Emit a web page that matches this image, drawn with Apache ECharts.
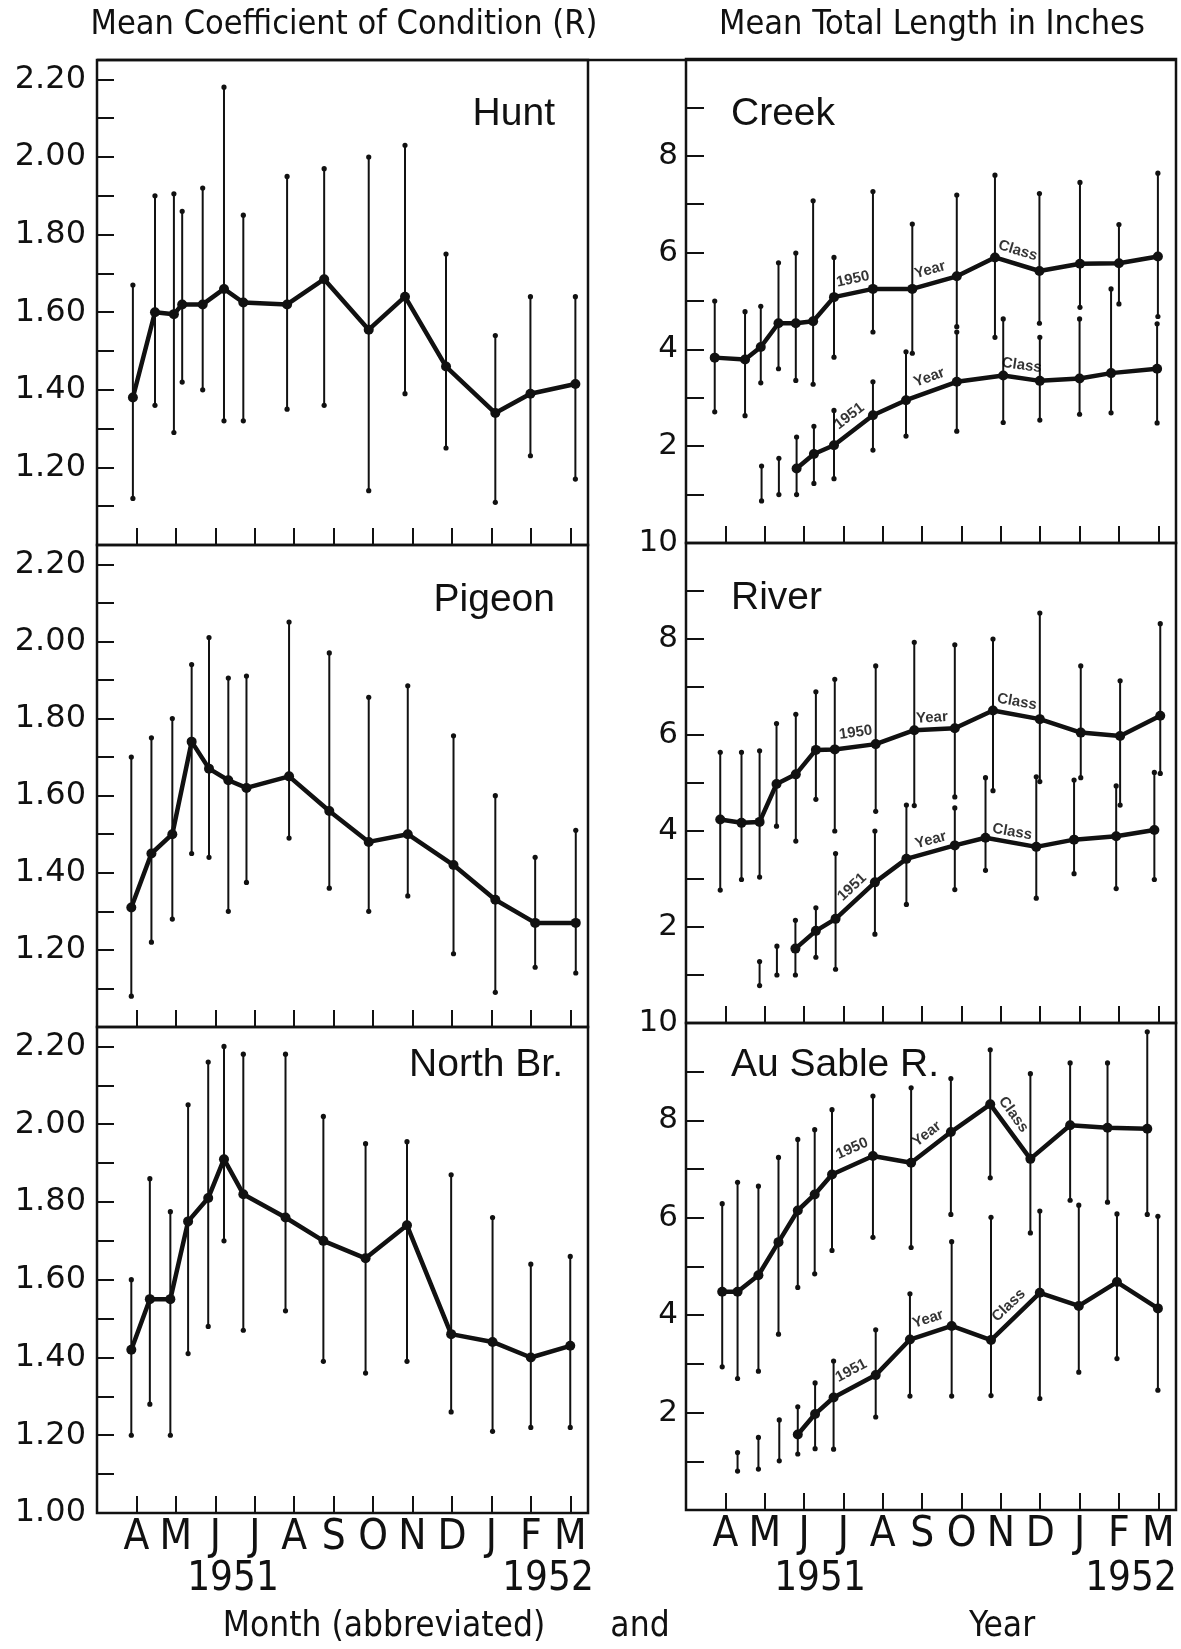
<!DOCTYPE html>
<html lang="en">

<head>
  <meta charset="UTF-8">
  <title>Condition and length by month</title>
  <style>
    html, body { margin: 0; padding: 0; background: #fff; }
    .main { width: 1181px; height: 1649px; }
  </style>
</head>

<body>
  <div class="main"></div>

  <script src="https://cdn.jsdelivr.net/npm/echarts@6/dist/echarts.min.js"></script>
  <script>
    // x position is in months: A(pril 1951) = 1 ... M(arch 1952) = 12
    const monthLetters = ['A', 'M', 'J', 'J', 'A', 'S', 'O', 'N', 'D', 'J', 'F', 'M']
    const monthTicks = [1, 2, 3, 4, 5, 6, 7, 8, 9, 10, 11, 12]
    const condMinorTicks = [1.1, 1.2, 1.3, 1.4, 1.5, 1.6, 1.7, 1.8, 1.9, 2.0, 2.1, 2.2]
    const condLabels = [1.2, 1.4, 1.6, 1.8, 2.0, 2.2]
    const lengthMinorTicks = [1, 2, 3, 4, 5, 6, 7, 8, 9]
    const lengthLabels = [2, 4, 6, 8]

    // ---- coefficient of condition (left column) ----
    const huntMonth = [0.91, 1.47, 1.95, 2.16, 2.68, 3.22, 3.71, 4.82, 5.76, 6.89, 7.81, 8.85, 10.10, 10.99, 12.13]
    const huntMean = [1.38, 1.60, 1.595, 1.62, 1.62, 1.66, 1.625, 1.62, 1.685, 1.555, 1.64, 1.46, 1.34, 1.39, 1.415]
    const huntLow = [1.12, 1.36, 1.29, 1.42, 1.40, 1.32, 1.32, 1.35, 1.36, 1.14, 1.39, 1.25, 1.11, 1.23, 1.17]
    const huntHigh = [1.67, 1.90, 1.905, 1.86, 1.92, 2.18, 1.85, 1.95, 1.97, 2.00, 2.03, 1.75, 1.54, 1.64, 1.64]

    const pigeonMonth = [0.87, 1.38, 1.91, 2.40, 2.84, 3.33, 3.79, 4.87, 5.89, 6.89, 7.88, 9.04, 10.10, 11.11, 12.14]
    const pigeonMean = [1.31, 1.45, 1.50, 1.74, 1.67, 1.64, 1.62, 1.65, 1.56, 1.48, 1.50, 1.42, 1.33, 1.27, 1.27]
    const pigeonLow = [1.08, 1.22, 1.28, 1.45, 1.44, 1.30, 1.375, 1.49, 1.36, 1.30, 1.34, 1.19, 1.09, 1.155, 1.14]
    const pigeonHigh = [1.70, 1.75, 1.80, 1.94, 2.01, 1.905, 1.91, 2.05, 1.97, 1.855, 1.885, 1.755, 1.60, 1.44, 1.51]

    const northMonth = [0.87, 1.34, 1.86, 2.31, 2.82, 3.22, 3.71, 4.78, 5.74, 6.81, 7.86, 8.98, 10.03, 11.00, 12.00]
    const northMean = [1.42, 1.55, 1.55, 1.75, 1.81, 1.91, 1.82, 1.76, 1.70, 1.655, 1.74, 1.46, 1.44, 1.40, 1.43]
    const northLow = [1.20, 1.28, 1.20, 1.41, 1.48, 1.70, 1.47, 1.52, 1.39, 1.36, 1.39, 1.26, 1.21, 1.22, 1.22]
    const northHigh = [1.60, 1.86, 1.775, 2.05, 2.16, 2.20, 2.18, 2.18, 2.02, 1.95, 1.955, 1.87, 1.76, 1.64, 1.66]

    // ---- mean total length in inches (right column), 1950 and 1951 year classes ----
    const creek50Month = [0.73, 1.50, 1.90, 2.35, 2.79, 3.23, 3.76, 4.75, 5.75, 6.88, 7.85, 8.98, 10.01, 11.00, 11.99]
    const creek50Mean = [3.83, 3.79, 4.05, 4.54, 4.54, 4.58, 5.08, 5.25, 5.25, 5.51, 5.90, 5.62, 5.77, 5.78, 5.92]
    const creek50Low = [2.71, 2.63, 3.31, 3.60, 3.36, 3.28, 3.84, 4.36, 3.92, 4.47, 4.25, 4.54, 4.87, 4.94, 4.68]
    const creek50High = [5.00, 4.78, 4.89, 5.79, 5.99, 7.07, 5.90, 7.26, 6.59, 7.19, 7.60, 7.22, 7.45, 6.58, 7.64]

    const creek51Month = [1.92, 2.36, 2.81, 3.25, 3.76, 4.75, 5.59, 6.88, 8.06, 8.99, 10.00, 10.80, 11.97]
    const creek51Mean = [null, null, 1.54, 1.84, 2.02, 2.64, 2.95, 3.33, 3.46, 3.35, 3.40, 3.51, 3.60]
    const creek51Low = [0.87, 1.00, 1.00, 1.23, 1.33, 1.92, 2.21, 2.31, 2.49, 2.54, 2.66, 2.69, 2.48]
    const creek51High = [1.59, 1.75, 2.19, 2.41, 2.74, 3.33, 3.95, 4.36, 4.63, 4.25, 4.63, 5.25, 4.53]

    const river50Month = [0.87, 1.41, 1.87, 2.30, 2.79, 3.30, 3.78, 4.82, 5.80, 6.83, 7.80, 8.99, 10.03, 11.03, 12.05]
    const river50Mean = [4.24, 4.17, 4.19, 4.98, 5.18, 5.69, 5.70, 5.81, 6.10, 6.14, 6.51, 6.33, 6.05, 5.98, 6.40]
    const river50Low = [2.77, 2.99, 3.04, 4.10, 3.79, 4.66, 4.00, 4.41, 4.53, 4.71, 4.84, 5.03, 5.11, 4.54, 5.20]
    const river50High = [5.64, 5.64, 5.67, 6.24, 6.43, 6.90, 7.16, 7.44, 7.93, 7.88, 8.00, 8.54, 7.44, 7.13, 8.32]

    const river51Month = [1.87, 2.31, 2.78, 3.30, 3.80, 4.80, 5.60, 6.83, 7.61, 8.90, 9.86, 10.93, 11.90]
    const river51Mean = [null, null, 1.55, 1.92, 2.17, 2.93, 3.42, 3.70, 3.86, 3.67, 3.82, 3.89, 4.02]
    const river51Low = [0.78, 1.00, 1.00, 1.37, 1.12, 1.85, 2.47, 2.78, 3.18, 2.60, 3.11, 2.80, 2.99]
    const river51High = [1.28, 1.60, 2.14, 2.40, 3.53, 4.00, 4.54, 4.48, 5.11, 5.13, 5.06, 4.94, 5.22]

    const sable50Month = [0.92, 1.31, 1.84, 2.35, 2.84, 3.27, 3.71, 4.75, 5.72, 6.73, 7.73, 8.75, 9.76, 10.71, 11.72]
    const sable50Mean = [4.48, 4.48, 4.82, 5.50, 6.15, 6.48, 6.89, 7.27, 7.13, 7.76, 8.33, 7.21, 7.90, 7.85, 7.83]
    const sable50Low = [2.94, 2.70, 2.85, 3.61, 4.57, 4.85, 5.33, 5.60, 5.39, 6.07, 6.82, 5.69, 6.36, 6.32, 6.07]
    const sable50High = [6.29, 6.73, 6.65, 7.24, 7.61, 7.81, 8.22, 8.50, 8.67, 8.86, 9.45, 8.96, 9.18, 9.18, 9.82]

    const sable51Month = [1.31, 1.84, 2.37, 2.84, 3.28, 3.75, 4.82, 5.69, 6.75, 7.75, 8.99, 9.98, 10.95, 11.99]
    const sable51Mean = [null, null, null, 1.55, 1.97, 2.31, 2.77, 3.50, 3.78, 3.49, 4.46, 4.19, 4.68, 4.14]
    const sable51Low = [0.80, 0.84, 1.01, 1.15, 1.26, 1.25, 1.91, 2.34, 2.34, 2.35, 2.29, 2.83, 3.11, 2.46]
    const sable51High = [1.18, 1.49, 1.85, 2.12, 2.61, 3.06, 3.70, 4.44, 5.51, 6.01, 6.14, 6.26, 6.08, 6.03]

    // "1950 Year Class" / "1951 Year Class" words along the lines: [month, inches, text, angle]
    const creekNotes = [[4.24, 5.45, '1950', 12], [6.2, 5.64, 'Year', 16], [8.43, 6.04, 'Class', -17],
                        [4.15, 2.62, '1951', 38], [6.18, 3.42, 'Year', 20], [8.53, 3.67, 'Class', -8]]
    const riverNotes = [[4.31, 6.05, '1950', 8], [6.25, 6.36, 'Year', 3], [8.41, 6.69, 'Class', -10],
                        [4.22, 2.83, '1951', 43], [6.22, 3.81, 'Year', 15], [8.29, 3.98, 'Class', -10]]
    const sableNotes = [[4.22, 7.42, '1950', 24], [6.12, 7.72, 'Year', 37], [8.32, 8.12, 'Class', -54],
                        [4.2, 2.86, '1951', 28], [6.15, 3.92, 'Year', 18], [8.2, 4.2, 'Class', 44]]

    const ink = '#111'
    const plainFont = "'DejaVu Sans', sans-serif"
    const narrowFont = "'DejaVu Sans Condensed', 'Liberation Sans Narrow', 'Liberation Sans', sans-serif"
    const nameFont = "'Liberation Sans', Arial, sans-serif"

    const myChart = echarts.init(document.querySelector('.main'))

    // panel frames (px)
    const leftX = 97, leftW = 491
    const rightX = 686, rightW = 490
    const leftRows = [[60, 485], [545, 482], [1027, 486]]
    const rightRows = [[59, 484], [543, 480], [1023, 487]]

    const grids = []
    const xAxes = []
    const yAxes = []
    const series = []

    const makeX = (i, last) => ({
      gridIndex: i, type: 'value', min: 0, max: 12.45,
      axisLine: { show: false },
      splitLine: { show: false },
      axisTick: { inside: true, length: 17, customValues: monthTicks, lineStyle: { color: ink, width: 2 } },
      axisLabel: {
        show: last, customValues: monthTicks, margin: 4,
        formatter: v => monthLetters[Math.round(v) - 1] || '',
        fontFamily: narrowFont, fontSize: 42, color: ink
      }
    })

    leftRows.forEach((r, i) => {
      grids.push({ left: leftX, top: r[0], width: leftW, height: r[1], show: true, borderColor: ink, borderWidth: 2.5 })
      xAxes.push(makeX(i, i === 2))
      yAxes.push({
        gridIndex: i, type: 'value', min: 1.0, max: 2.25,
        axisLine: { show: false },
        splitLine: { show: false },
        axisTick: { inside: true, length: 17, customValues: condMinorTicks, lineStyle: { color: ink, width: 2 } },
        axisLabel: {
          customValues: i === 2 ? [1.0].concat(condLabels) : condLabels,
          formatter: v => v.toFixed(2), margin: 11,
          fontFamily: plainFont, fontSize: 32, color: ink
        }
      })
    })
    rightRows.forEach((r, i) => {
      grids.push({ left: rightX, top: r[0], width: rightW, height: r[1], show: true, borderColor: ink, borderWidth: 2.5 })
      xAxes.push(makeX(i + 3, i === 2))
      yAxes.push({
        gridIndex: i + 3, type: 'value', min: 0, max: 10,
        axisLine: { show: false },
        splitLine: { show: false },
        axisTick: { inside: true, length: 18, customValues: lengthMinorTicks, lineStyle: { color: ink, width: 2 } },
        axisLabel: {
          customValues: i === 0 ? lengthLabels : lengthLabels.concat([10]), margin: 8,
          fontFamily: plainFont, fontSize: 31, color: ink
        }
      })
    })

    const errorBars = (idx, month, low, high) => ({
      type: 'custom', xAxisIndex: idx, yAxisIndex: idx, silent: true, z: 2,
      data: month.map((m, k) => [m, low[k], high[k]]),
      encode: { x: 0, y: [1, 2] },
      renderItem: (params, api) => {
        const top = api.coord([api.value(0), api.value(2)])
        const bot = api.coord([api.value(0), api.value(1)])
        return {
          type: 'group',
          children: [
            { type: 'line', shape: { x1: top[0], y1: top[1], x2: bot[0], y2: bot[1] }, style: { stroke: ink, lineWidth: 2 } },
            { type: 'circle', shape: { cx: top[0], cy: top[1], r: 2.6 }, style: { fill: ink } },
            { type: 'circle', shape: { cx: bot[0], cy: bot[1], r: 2.6 }, style: { fill: ink } }
          ]
        }
      }
    })

    const meanLine = (idx, month, mean) => ({
      type: 'line', xAxisIndex: idx, yAxisIndex: idx, silent: true, z: 3,
      data: month.map((m, k) => [m, mean[k]]).filter(d => d[1] != null),
      symbol: 'circle', symbolSize: 10, showAllSymbol: true,
      lineStyle: { color: ink, width: 4.5 },
      itemStyle: { color: ink },
      animation: false
    })

    const notes = (idx, list) => ({
      type: 'scatter', xAxisIndex: idx, yAxisIndex: idx, silent: true, z: 4,
      symbolSize: 1, itemStyle: { color: 'rgba(0,0,0,0)' },
      data: list.map(n => ({ value: [n[0], n[1]], label: { formatter: n[2], rotate: n[3] } })),
      label: { show: true, position: 'inside', color: '#000', fontFamily: nameFont, fontWeight: 'bold', fontSize: 15 }
    })

    const condPanels = [[huntMonth, huntMean, huntLow, huntHigh], [pigeonMonth, pigeonMean, pigeonLow, pigeonHigh], [northMonth, northMean, northLow, northHigh]]
    condPanels.forEach((p, i) => {
      series.push(errorBars(i, p[0], p[2], p[3]))
      series.push(meanLine(i, p[0], p[1]))
    })

    const lengthPanels = [
      [[creek50Month, creek50Mean, creek50Low, creek50High], [creek51Month, creek51Mean, creek51Low, creek51High], creekNotes],
      [[river50Month, river50Mean, river50Low, river50High], [river51Month, river51Mean, river51Low, river51High], riverNotes],
      [[sable50Month, sable50Mean, sable50Low, sable50High], [sable51Month, sable51Mean, sable51Low, sable51High], sableNotes]
    ]
    lengthPanels.forEach((p, i) => {
      const idx = i + 3
      for (const cls of [p[0], p[1]]) {
        series.push(errorBars(idx, cls[0], cls[2], cls[3]))
        series.push(meanLine(idx, cls[0], cls[1]))
      }
      series.push(notes(idx, p[2]))
    })

    const txt = (text, x, y, font, align) => ({
      type: 'text', x: x, y: y, silent: true,
      style: { text: text, font: font, fill: ink, align: align || 'center', verticalAlign: 'middle', textAlign: align || 'center', textVerticalAlign: 'middle' }
    })

    const option = {
      animation: false,
      backgroundColor: '#fff',
      grid: grids,
      xAxis: xAxes,
      yAxis: yAxes,
      series: series,
      graphic: [
        // line across the top of both columns
        { type: 'line', shape: { x1: leftX, y1: 60, x2: rightX + rightW, y2: 60 }, style: { stroke: ink, lineWidth: 2.5 }, silent: true },
        txt('Mean Coefficient of Condition (R)', 344, 25, '34px ' + narrowFont),
        txt('Mean Total Length in Inches', 932, 25, '34px ' + narrowFont),
        txt('Hunt', 555, 114, '39px ' + nameFont, 'right'),
        txt('Pigeon', 555, 600, '39px ' + nameFont, 'right'),
        txt('North Br.', 563, 1065, '39px ' + nameFont, 'right'),
        txt('Creek', 731, 114, '39px ' + nameFont, 'left'),
        txt('River', 731, 598, '39px ' + nameFont, 'left'),
        txt('Au Sable R.', 731, 1065, '39px ' + nameFont, 'left'),
        txt('1951', 233, 1580, '40px ' + narrowFont),
        txt('1952', 548, 1580, '40px ' + narrowFont),
        txt('1951', 820, 1580, '40px ' + narrowFont),
        txt('1952', 1131, 1580, '40px ' + narrowFont),
        txt('Month (abbreviated)', 384, 1627, '35px ' + narrowFont),
        txt('and', 640, 1627, '35px ' + narrowFont),
        txt('Year', 1002, 1627, '35px ' + narrowFont)
      ]
    }

    myChart.setOption(option)
  </script>
</body>

</html>
